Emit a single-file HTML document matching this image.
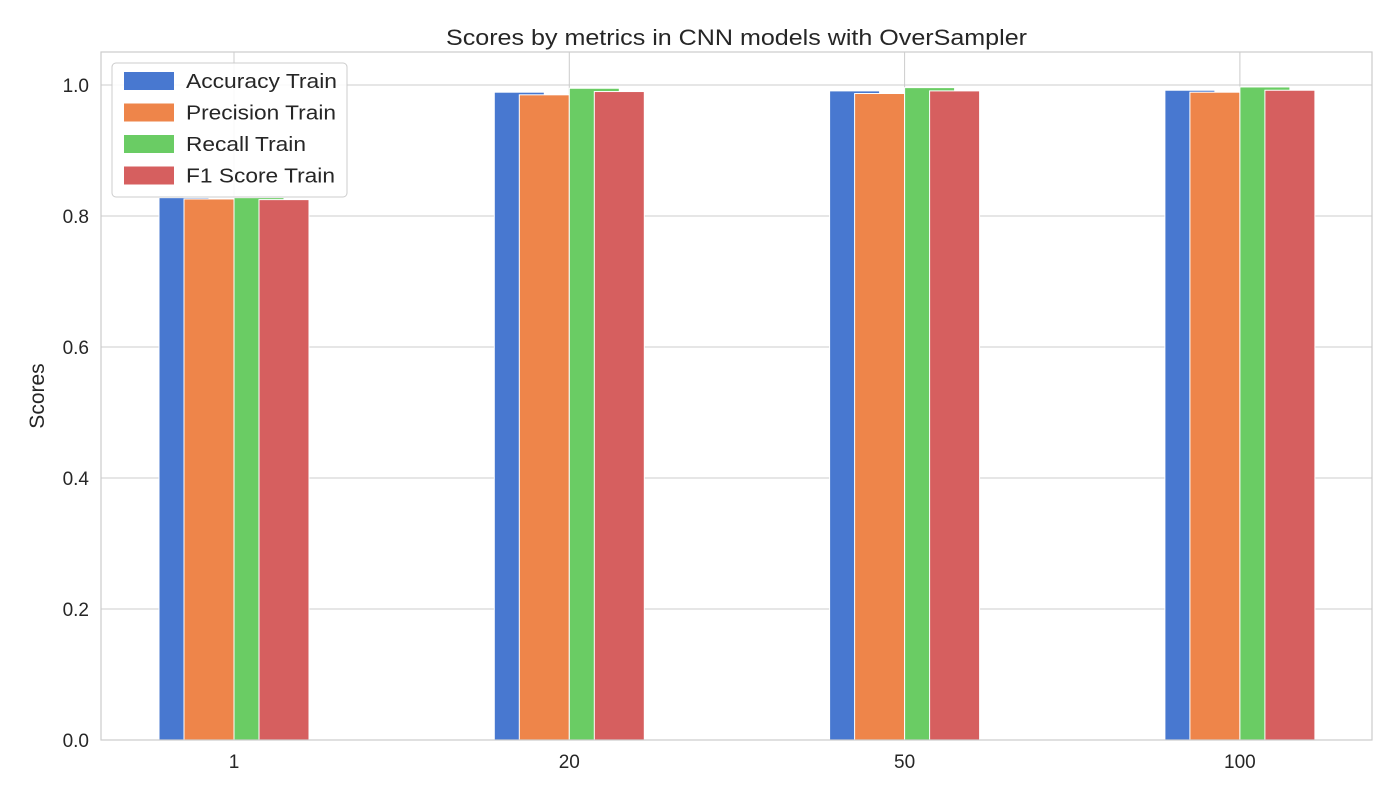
<!DOCTYPE html>
<html><head><meta charset="utf-8"><style>body{margin:0;background:#fff}svg text{font-family:"Liberation Sans",sans-serif;fill:#262626}</style></head>
<body>
<svg id="chart" width="1400" height="800" xmlns="http://www.w3.org/2000/svg"></svg>
<script>
const categories=["1","20","50","100"];
const accuracy=[0.828,0.989,0.991,0.992];
const precision=[0.826,0.985,0.987,0.989];
const recall=[0.828,0.995,0.996,0.997];
const f1=[0.825,0.990,0.991,0.992];
const yTicks=[0,0.2,0.4,0.6,0.8,1.0];
const seriesNames=["Accuracy Train","Precision Train","Recall Train","F1 Score Train"];
const colors=["#4878d0","#ee854a","#6acc64","#d65f5f"];
const offsets=[-75,-50,0,25];
const svg=document.getElementById('chart');
const NS="http://www.w3.org/2000/svg";
const L=101,R=1372,T=52,B=740;
const y=v=>B-v*655;
const x=i=>234+i*335.3;
function el(t,a,p){const e=document.createElementNS(NS,t);for(const k in a)e.setAttribute(k,a[k]);(p||svg).appendChild(e);return e;}
yTicks.forEach(v=>{const g=el('line',{x1:L,x2:R,y1:y(v),y2:y(v),stroke:'#cccccc','stroke-width':1});


const t=el('text',{x:L-12,y:y(v)+7,'text-anchor':'end','font-size':19});t.textContent=v.toFixed(1);

});
categories.forEach((c,i)=>{const g=el('line',{x1:x(i),x2:x(i),y1:T,y2:B,stroke:'#cccccc','stroke-width':1});


const t=el('text',{x:x(i),y:B+28,'text-anchor':'middle','font-size':19});t.textContent=c;

});
const data=[accuracy,precision,recall,f1];
data.forEach((s,si)=>{s.forEach((v,i)=>{const r=el('rect',{x:x(i)+offsets[si],y:y(v),width:50,height:B-y(v),fill:colors[si],stroke:'#fff','stroke-width':1});

});});
const fr=el('rect',{x:L,y:T,width:R-L,height:B-T,fill:'none',stroke:'#cccccc','stroke-width':1.2});


const title=el('text',{x:(L+R)/2,y:45,'text-anchor':'middle','font-size':22,textLength:581,lengthAdjust:'spacingAndGlyphs'});title.textContent="Scores by metrics in CNN models with OverSampler";


const yl=el('text',{x:44,y:396,'text-anchor':'middle','font-size':21,transform:'rotate(-90 44 396)'});yl.textContent="Scores";


const lg=el('g',{});


el('rect',{x:112,y:63,width:235,height:134,rx:4,fill:'#fff','fill-opacity':0.85,stroke:'#cccccc'},lg);
const legendWidths=[151,150,120,149];
seriesNames.forEach((n,i)=>{const yy=72+i*31.5;
const sw=el('rect',{x:124,y:yy,width:50,height:18,fill:colors[i]},lg);


const t=el('text',{x:186,y:yy+16,'font-size':20,textLength:legendWidths[i],lengthAdjust:'spacingAndGlyphs'},lg);t.textContent=n;

});
</script>
</body></html>
